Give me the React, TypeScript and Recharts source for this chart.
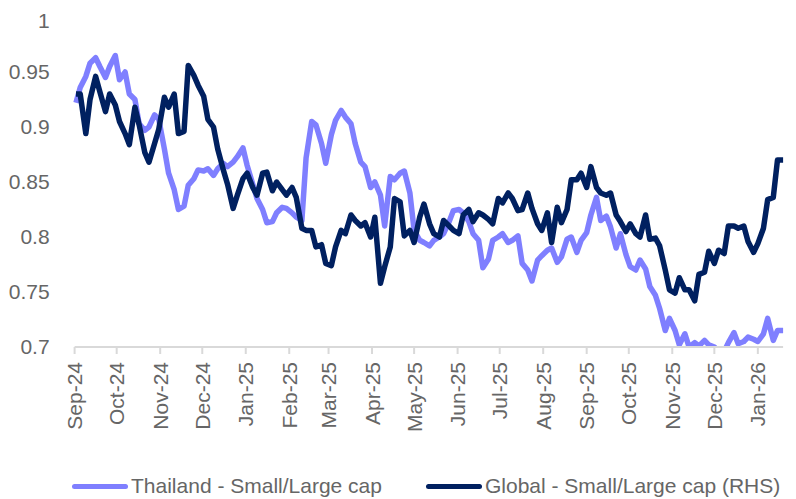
import React from 'react'
import { LineChart, Line, XAxis, YAxis } from 'recharts'

// twice-weekly observations (Mon / Thu)
const DATES = [
  '2024-09-02', '2024-09-05', '2024-09-09', '2024-09-12', '2024-09-16', '2024-09-19', '2024-09-23', '2024-09-26',
  '2024-09-30', '2024-10-03', '2024-10-07', '2024-10-10', '2024-10-14', '2024-10-17', '2024-10-21', '2024-10-24',
  '2024-10-28', '2024-10-31', '2024-11-04', '2024-11-07', '2024-11-11', '2024-11-14', '2024-11-18', '2024-11-21',
  '2024-11-25', '2024-11-28', '2024-12-02', '2024-12-05', '2024-12-09', '2024-12-12', '2024-12-16', '2024-12-19',
  '2024-12-23', '2024-12-26', '2024-12-30', '2025-01-02', '2025-01-06', '2025-01-09', '2025-01-13', '2025-01-16',
  '2025-01-20', '2025-01-23', '2025-01-27', '2025-01-30', '2025-02-03', '2025-02-06', '2025-02-10', '2025-02-13',
  '2025-02-17', '2025-02-20', '2025-02-24', '2025-02-27', '2025-03-03', '2025-03-06', '2025-03-10', '2025-03-13',
  '2025-03-17', '2025-03-20', '2025-03-24', '2025-03-27', '2025-03-31', '2025-04-03', '2025-04-07', '2025-04-10',
  '2025-04-14', '2025-04-17', '2025-04-21', '2025-04-24', '2025-04-28', '2025-05-01', '2025-05-05', '2025-05-08',
  '2025-05-12', '2025-05-15', '2025-05-19', '2025-05-22', '2025-05-26', '2025-05-29', '2025-06-02', '2025-06-05',
  '2025-06-09', '2025-06-12', '2025-06-16', '2025-06-19', '2025-06-23', '2025-06-26', '2025-06-30', '2025-07-03',
  '2025-07-07', '2025-07-10', '2025-07-14', '2025-07-17', '2025-07-21', '2025-07-24', '2025-07-28', '2025-07-31',
  '2025-08-04', '2025-08-07', '2025-08-11', '2025-08-14', '2025-08-18', '2025-08-21', '2025-08-25', '2025-08-28',
  '2025-09-01', '2025-09-04', '2025-09-08', '2025-09-11', '2025-09-15', '2025-09-18', '2025-09-22', '2025-09-25',
  '2025-09-29', '2025-10-02', '2025-10-06', '2025-10-09', '2025-10-13', '2025-10-16', '2025-10-20', '2025-10-23',
  '2025-10-27', '2025-10-30', '2025-11-03', '2025-11-06', '2025-11-10', '2025-11-13', '2025-11-17', '2025-11-20',
  '2025-11-24', '2025-11-27', '2025-12-01', '2025-12-04', '2025-12-08', '2025-12-11', '2025-12-15', '2025-12-18',
  '2025-12-22', '2025-12-25', '2025-12-29', '2026-01-01', '2026-01-05', '2026-01-08', '2026-01-12', '2026-01-15',
  '2026-01-19',
]

const THAILAND = [
  0.922, 0.936, 0.946, 0.958, 0.963, 0.955, 0.945, 0.955, 0.965, 0.943, 0.95, 0.93, 0.925, 0.903, 0.897, 0.9,
  0.911, 0.907, 0.88, 0.858, 0.843, 0.825, 0.828, 0.847, 0.853, 0.861, 0.86, 0.862, 0.856, 0.862, 0.867, 0.864,
  0.868, 0.873, 0.881, 0.865, 0.848, 0.835, 0.825, 0.813, 0.814, 0.822, 0.827, 0.826, 0.822, 0.818, 0.815, 0.872,
  0.905, 0.902, 0.885, 0.867, 0.893, 0.906, 0.915, 0.909, 0.903, 0.885, 0.868, 0.864, 0.845, 0.85, 0.838, 0.81,
  0.855, 0.852, 0.858, 0.86, 0.84, 0.806, 0.797, 0.795, 0.792, 0.797, 0.8, 0.803, 0.814, 0.824, 0.825, 0.822,
  0.814, 0.803, 0.797, 0.772, 0.78, 0.797, 0.8, 0.803, 0.795, 0.797, 0.801, 0.776, 0.77, 0.76, 0.779, 0.783,
  0.788, 0.79, 0.777, 0.782, 0.798, 0.8, 0.786, 0.797, 0.804, 0.82, 0.836, 0.815, 0.819, 0.809, 0.79, 0.803,
  0.784, 0.773, 0.77, 0.779, 0.771, 0.755, 0.747, 0.735, 0.715, 0.726, 0.715, 0.702, 0.712, 0.7, 0.704, 0.701,
  0.706, 0.702, 0.7, 0.695, 0.696, 0.704, 0.713, 0.703, 0.705, 0.709, 0.707, 0.705, 0.712, 0.726, 0.706, 0.715,
  0.715,
]

const GLOBAL = [
  0.93, 0.93, 0.894, 0.925, 0.946, 0.932, 0.914, 0.93, 0.92, 0.905, 0.894, 0.884, 0.918, 0.902, 0.877, 0.868,
  0.885, 0.898, 0.927, 0.918, 0.93, 0.894, 0.896, 0.956, 0.947, 0.938, 0.928, 0.907, 0.9, 0.88, 0.861, 0.848,
  0.826, 0.838, 0.853, 0.858, 0.845, 0.838, 0.858, 0.859, 0.842, 0.85, 0.843, 0.838, 0.845, 0.836, 0.808, 0.806,
  0.806, 0.791, 0.793, 0.776, 0.774, 0.791, 0.806, 0.803, 0.82, 0.815, 0.81, 0.813, 0.8, 0.818, 0.758, 0.773,
  0.791, 0.835, 0.832, 0.801, 0.806, 0.795, 0.818, 0.83, 0.812, 0.803, 0.8, 0.815, 0.81, 0.806, 0.803, 0.82,
  0.825, 0.814, 0.822, 0.82, 0.816, 0.812, 0.835, 0.831, 0.84, 0.835, 0.824, 0.825, 0.84, 0.826, 0.812, 0.806,
  0.822, 0.795, 0.827, 0.813, 0.825, 0.852, 0.852, 0.858, 0.845, 0.864, 0.845, 0.84, 0.838, 0.84, 0.82, 0.814,
  0.805, 0.812, 0.803, 0.8, 0.82, 0.798, 0.799, 0.792, 0.77, 0.752, 0.749, 0.763, 0.752, 0.752, 0.742, 0.766,
  0.768, 0.787, 0.776, 0.788, 0.785, 0.81, 0.81, 0.808, 0.81, 0.796, 0.786, 0.794, 0.808, 0.834, 0.836, 0.87,
  0.87,
]

const MONTHS = [
  '2024-09-01', '2024-10-01', '2024-11-01', '2024-12-01', '2025-01-01', '2025-02-01', '2025-03-01', '2025-04-01',
  '2025-05-01', '2025-06-01', '2025-07-01', '2025-08-01', '2025-09-01', '2025-10-01', '2025-11-01', '2025-12-01',
  '2026-01-01',
]
const MONTH_LABELS = [
  'Sep-24', 'Oct-24', 'Nov-24', 'Dec-24', 'Jan-25', 'Feb-25', 'Mar-25', 'Apr-25', 'May-25', 'Jun-25', 'Jul-25',
  'Aug-25', 'Sep-25', 'Oct-25', 'Nov-25', 'Dec-25', 'Jan-26',
]
const Y_TICKS = [0.7, 0.75, 0.8, 0.85, 0.9, 0.95, 1]

const FONT = '"Liberation Sans", Arial, sans-serif'
const TEXT = '#666666'
const LIGHT = '#7f7fff'
const DARK = '#002060'

const data = DATES.map((d, i) => ({
  t: Date.parse(d),
  thailand: THAILAND[i],
  global: GLOBAL[i],
}))

const monthTicks = MONTHS.map((m) => Date.parse(m))
const labelFor = (t: number) => MONTH_LABELS[monthTicks.indexOf(t)] ?? ''

function MonthTick({ x, y, payload }: any) {
  return (
    <g transform={`translate(${x},${y + 6})`}>
      <text
        transform='rotate(-90)'
        textAnchor='end'
        dy='0.36em'
        fill={TEXT}
        fontSize={21}
        fontFamily={FONT}
      >
        {labelFor(payload.value)}
      </text>
    </g>
  )
}

function ChartLegend() {
  const item = (color: string, label: string, width?: number) => (
    <div style={{ display: 'flex', alignItems: 'center', width }}>
      <span
        style={{
          display: 'inline-block',
          width: 56,
          height: 5,
          borderRadius: 3,
          background: color,
          marginRight: 3,
        }}
      />
      <span>{label}</span>
    </div>
  )
  return (
    <div
      style={{
        position: 'absolute',
        left: 64,
        top: 466,
        display: 'flex',
        fontFamily: FONT,
        fontSize: 21,
        color: TEXT,
        whiteSpace: 'nowrap',
      }}
    >
      {item(LIGHT, 'Thailand - Small/Large cap', 354)}
      {item(DARK, 'Global - Small/Large cap (RHS)')}
    </div>
  )
}

export default function App() {
  return (
    <div style={{ position: 'relative', width: 788, height: 491 }}>
      <LineChart
        width={788}
        height={491}
        data={data}
        margin={{ top: 9, right: 12.9, bottom: 52, left: 6.6 }}
      >
        <XAxis
          dataKey='t'
          type='number'
          scale='time'
          domain={[Date.parse('2024-09-01'), Date.parse('2026-01-19')]}
          ticks={monthTicks}
          tick={<MonthTick />}
          interval={0}
          height={100}
          axisLine={{ stroke: '#d9d9d9', strokeWidth: 2 }}
          tickLine={{ stroke: '#d9d9d9', strokeWidth: 2 }}
          tickSize={7}
        />
        <YAxis
          type='number'
          domain={[0.7, 1]}
          ticks={Y_TICKS}
          allowDataOverflow
          width={60}
          axisLine={false}
          tickLine={false}
          tickSize={0}
          tickMargin={25}
          tickFormatter={(v: number) => String(+v.toFixed(2))}
          tick={{ fill: TEXT, fontSize: 21, fontFamily: FONT }}
        />
        <Line
          dataKey='thailand'
          stroke={LIGHT}
          strokeWidth={5.5}
          dot={false}
          isAnimationActive={false}
          strokeLinejoin='round'
        />
        <Line
          dataKey='global'
          stroke={DARK}
          strokeWidth={5.5}
          dot={false}
          isAnimationActive={false}
          strokeLinejoin='round'
        />
      </LineChart>
      <ChartLegend />
    </div>
  )
}
